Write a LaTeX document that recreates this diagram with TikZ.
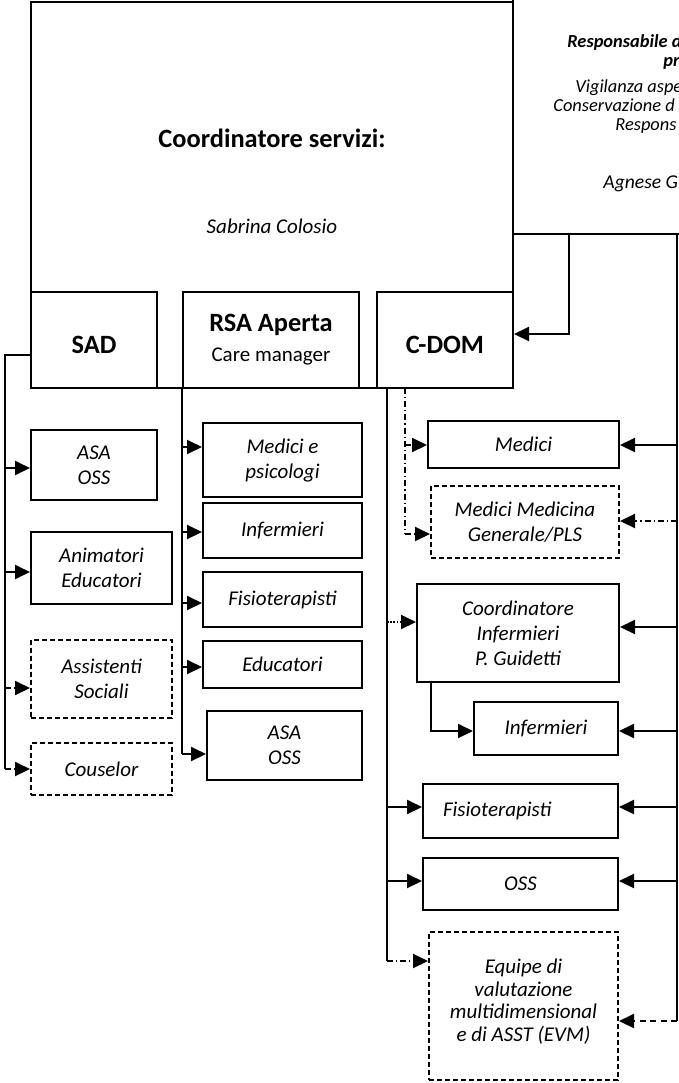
\documentclass[tikz,border=0pt]{standalone}
\usepackage{fontspec}
\setmainfont{Carlito}
\usetikzlibrary{arrows.meta}

\newcommand{\lblfont}{\fontsize{10.5pt}{12.5pt}\selectfont\itshape}
\newcommand{\normfont}{\fontsize{10.5pt}{12.5pt}\selectfont}
\newcommand{\headfont}{\fontsize{13.2pt}{15pt}\selectfont\bfseries}
\newcommand{\respfont}{\fontsize{9.2pt}{9.6pt}\selectfont\itshape}

\tikzset{
  box/.style={draw, line width=1pt, inner sep=0pt, align=center, font=\lblfont},
  dbox/.style={box, dash pattern=on 2.5pt off 1.5pt},
  hbox/.style={box, font=\headfont, text height=13.5pt, text depth=0pt},
  wh/.style 2 args={minimum width=#1*0.5pt, minimum height=#2*0.5pt},
  ln/.style={line width=1pt},
  arr/.style={ln, -{Triangle[length=7.5pt,width=7pt]}},
  dashdot/.style={dash pattern=on 3pt off 1.5pt on 0.6pt off 1.5pt},
  dotline/.style={dash pattern=on 0.8pt off 0.8pt},
  dashln/.style={dash pattern=on 3pt off 2.2pt}
}

\begin{document}
\begin{tikzpicture}[x=0.5pt,y=-0.5pt]
\useasboundingbox (0,0) rectangle (679,1083);
\clip (0,0) rectangle (679,1083);

% top boxes
\node[box,wh={482}{386}] (coord) at (272,195) {};
\node[box,wh={287}{274}] (resp) at (656.5,97) {};
\node[anchor=base,font=\headfont] (coordtitle) at (272,147) {Coordinatore servizi:};
\node[anchor=base,font=\lblfont] (coordname) at (272,233) {Sabrina Colosio};

\foreach \tx/\ty/\ltxt [count=\i] in {567/47/{\bfseries Responsabile d},663/66/{\bfseries pr},575/92/{Vigilanza aspe},553/111/{Conservazione d},615/130/{Respons}}
  \node[anchor=base west,inner sep=0pt,font=\respfont] (resp\i) at (\tx,\ty) {\ltxt};
\node[anchor=base west,inner sep=0pt,font=\fontsize{9.8pt}{11pt}\selectfont\itshape] (respname) at (603,188) {Agnese G};

% services
\node[hbox,wh={126}{96}] (sad) at (94,340) {SAD};
\node[box,wh={176}{96},font=\normfont] (rsa) at (271,340) {{\headfont RSA Aperta}\\[2.5pt]Care manager};
\node[hbox,wh={136}{96}] (cdom) at (445,340) {C-DOM};

% SAD column
\node[box,wh={126}{70}] (sadasa) at (94,465) {ASA\\OSS};
\node[box,wh={141}{72}] (sadanim) at (101.5,568) {Animatori\\Educatori};
\node[dbox,wh={141}{78}] (sadass) at (101.5,679) {Assistenti\\Sociali};
\node[dbox,wh={141}{52}] (sadcou) at (101.5,769) {Couselor};

% RSA column
\node[box,wh={159}{74}] (rsamed) at (282.5,460) {Medici e\\psicologi};
\node[box,wh={159}{55}] (rsainf) at (282.5,530.5) {Infermieri};
\node[box,wh={159}{55}] (rsafis) at (282.5,599.5) {Fisioterapisti};
\node[box,wh={159}{47}] (rsaedu) at (282.5,664.5) {Educatori};
\node[box,wh={155}{69}] (rsaasa) at (284.5,745.5) {ASA\\OSS};

% C-DOM column
\node[box,wh={191}{47}] (cmed) at (523.5,444.5) {Medici};
\node[dbox,wh={188}{72}] (cmmg) at (525,522) {Medici Medicina\\Generale/PLS};
\node[box,wh={202}{98}] (ccoord) at (518,633) {Coordinatore\\Infermieri\\P. Guidetti};
\node[box,wh={144}{53}] (cinf) at (546,728.5) {Infermieri};
\node[box,wh={195}{54},align=left,text width=77.5pt,inner xsep=10pt] (cfis) at (520.5,811) {Fisioterapisti};
\node[box,wh={195}{52}] (coss) at (520.5,884) {OSS};
\node[dbox,wh={189}{148},font=\fontsize{10.5pt}{11.3pt}\selectfont\itshape] (cevm) at (523.5,1006) {Equipe di\\valutazione\\multidimensional\\e di ASST (EVM)\\[-5.3pt]\mbox{}};

% SAD links
\coordinate (sadspine) at (5,355);
\draw[ln] (sad.west |- sadspine) -- (sadspine) -- (sadspine |- 0,769);
\foreach \n/\y in {sadasa/468,sadanim/572}
  \draw[arr] (sadspine |- 0,\y) -- (\n.west |- 0,\y);
\draw[arr,dashdot] (sadspine |- 0,688) -- (sadass.west |- 0,688);
\draw[arr,dashdot] (sadspine |- 0,769) -- (sadcou.west |- 0,769);

% RSA links
\draw[ln] (rsa.south west) -- (rsa.south west |- 0,754);
\foreach \n/\y in {rsamed/447,rsainf/532,rsafis/603,rsaedu/667,rsaasa/754}
  \draw[arr] (rsa.west |- 0,\y) -- (\n.west |- 0,\y);

% C-DOM links
\coordinate (cspine) at (387,388);
\coordinate (cdash) at (405,388);
\draw[ln] (cspine) -- (cspine |- 0,961);
\draw[ln,dashdot] (cdash) -- (cdash |- 0,534);
\draw[arr,dashdot] (cdash |- 0,445) -- (cmed.west |- 0,445);
\draw[arr,dashdot] (cdash |- 0,534) -- (cmmg.west |- 0,534);
\draw[arr,dotline] (cspine |- 0,622) -- (ccoord.west |- 0,622);
\draw[arr] (ccoord.south -| 431,0) |- (cinf.west |- 0,731);
\foreach \n/\y in {cfis/807,coss/881}
  \draw[arr] (cspine |- 0,\y) -- (\n.west |- 0,\y);
\draw[arr,dashdot] (cspine |- 0,961) -- (cevm.west |- 0,961);

% right side links
\coordinate (rspine) at (677,234);
\draw[ln] (rspine) -- (rspine |- 0,1021);
\foreach \n/\y in {cmed/445,ccoord/627,cinf/731,cfis/807,coss/881}
  \draw[arr] (rspine |- 0,\y) -- (\n.east |- 0,\y);
\draw[arr,dashdot] (rspine |- 0,521) -- (cmmg.east |- 0,521);
\draw[arr,dashln] (rspine |- 0,1021) -- (cevm.east |- 0,1021);
\draw[arr] (resp.south -| 569,0) |- (cdom.east |- 0,334);

\end{tikzpicture}
\end{document}
